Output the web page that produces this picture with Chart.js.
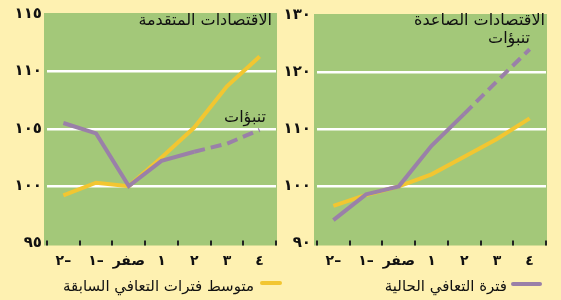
<!DOCTYPE html>
<html>
<head>
<meta charset="utf-8">
<script src="https://cdn.jsdelivr.net/npm/chart.js@4"></script>
<style>
  html, body { margin: 0; padding: 0; }
  body { width: 561px; height: 300px; background: #fef1b1; position: relative; overflow: hidden;
         font-family: "DejaVu Sans", sans-serif; color: #111; }
  .panel { position: absolute; top: 0; height: 300px; }
  .txt { position: absolute; direction: rtl; white-space: nowrap; font-size: 16px; line-height: 20px; }
  .swatch { position: absolute; height: 4px; border-radius: 2px; }
</style>
</head>
<body>
<div class="panel" style="left:0;width:280px"><canvas id="advChart"></canvas></div>
<div class="panel" style="left:280px;width:281px"><canvas id="emChart"></canvas></div>

<div class="txt" style="right:289px;top:10px">الاقتصادات المتقدمة</div>
<div class="txt" style="right:295px;top:107px">تنبؤات</div>
<div class="txt" style="right:16px;top:10px">الاقتصادات الصاعدة</div>
<div class="txt" style="right:31px;top:28px">تنبؤات</div>

<div class="swatch" style="left:260px;width:22px;top:281px;background:#f2c631"></div>
<div class="txt" style="right:307px;top:276px;font-size:15px">متوسط فترات التعافي السابقة</div>
<div class="swatch" style="left:511px;width:31px;top:282px;background:#9a80a8"></div>
<div class="txt" style="right:54px;top:276px;font-size:15px">فترة التعافي الحالية</div>

<script>
const xLabels = ["٢–", "١–", "صفر", "١", "٢", "٣", "٤"];

const advAverage = [99.2, 100.3, 100, 102.5, 105.1, 108.7, 111.3];
const advCurrent = [105.5, 104.6, 100, 102.2, 103.0, 103.7, 104.9];
const advTicks = [95, 100, 105, 110, 115];

const emAverage = [96.6, 98.5, 100, 102.1, 105.2, 108.3, 111.9];
const emCurrent = [94.1, 98.6, 100, 107.1, 112.7, 118.4, 124.0];
const emTicks = [90, 100, 110, 120, 130];

// forecasts (dashed) start after the point labelled ٢
const forecastFrom = 4;

const GREEN = "#a3c879";
const YELLOW = "#f2c631";
const PURPLE = "#9a80a8";

function arabicDigits(n) {
  return String(n).replace(/\d/g, d => "٠١٢٣٤٥٦٧٨٩"[d]);
}

const panelPlugin = {
  id: "panel",
  beforeDraw(chart) {
    const { ctx, chartArea: a } = chart;
    ctx.save();
    ctx.fillStyle = GREEN;
    ctx.fillRect(a.left - 3, a.top - 1, a.right - a.left + 4, a.bottom - a.top + 3);
    ctx.restore();
  },
  afterDraw(chart) {
    // small dark ticks between categories, along the bottom of the panel
    const { ctx, chartArea: a } = chart;
    const xs = chart.scales.x;
    const step = (xs.right - xs.left) / xLabels.length;
    ctx.save();
    ctx.fillStyle = "#222";
    for (let i = 0; i <= xLabels.length; i++) {
      const x = Math.round(xs.left + i * step);
      ctx.fillRect(x - 1, a.bottom - 3, 2, 5);
    }
    ctx.restore();
  }
};

function makeChart(id, average, current, ticks, yWidth, padRight, labelPad) {
  const ctx = document.getElementById(id).getContext("2d");
  const lo = ticks[0], hi = ticks[ticks.length - 1];
  return new Chart(ctx, {
    type: "line",
    data: {
      labels: xLabels,
      datasets: [
        {
          label: "فترة التعافي الحالية",
          data: current,
          borderColor: PURPLE,
          borderWidth: 4,
          pointRadius: 0,
          tension: 0,
          segment: {
            borderDash: c => c.p0DataIndex >= forecastFrom ? [11, 6] : undefined
          }
        },
        {
          label: "متوسط فترات التعافي السابقة",
          data: average,
          borderColor: YELLOW,
          borderWidth: 4,
          pointRadius: 0,
          tension: 0
        }
      ]
    },
    options: {
      responsive: true,
      maintainAspectRatio: false,
      animation: false,
      layout: { padding: { top: 9.5, right: padRight, left: 0, bottom: 0 } },
      plugins: { legend: { display: false }, tooltip: { enabled: false } },
      scales: {
        x: {
          offset: true,
          grid: { display: false },
          border: { display: false },
          ticks: {
            color: "#111",
            padding: 1,
            autoSkip: false,
            maxRotation: 0,
            font: { family: "DejaVu Sans", size: 14, weight: "bold" }
          },
          afterFit: s => { s.height = 56.5; }
        },
        y: {
          min: lo,
          max: hi,
          afterBuildTicks: s => { s.ticks = ticks.map(v => ({ value: v })); },
          grid: {
            drawTicks: false,
            lineWidth: 2.5,
            color: c => (c.tick && (c.tick.value === lo || c.tick.value === hi)) ? "rgba(0,0,0,0)" : "#ffffff"
          },
          border: { display: false },
          ticks: {
            color: "#111",
            padding: labelPad,
            font: { family: "DejaVu Sans", size: 15, weight: "bold" },
            callback: v => arabicDigits(v)
          },
          afterFit: s => { s.width = yWidth; }
        }
      }
    },
    plugins: [panelPlugin]
  });
}

makeChart("advChart", advAverage, advCurrent, advTicks, 47, 4, 5);
makeChart("emChart", emAverage, emCurrent, emTicks, 37, 15, 6);
</script>
</body>
</html>
